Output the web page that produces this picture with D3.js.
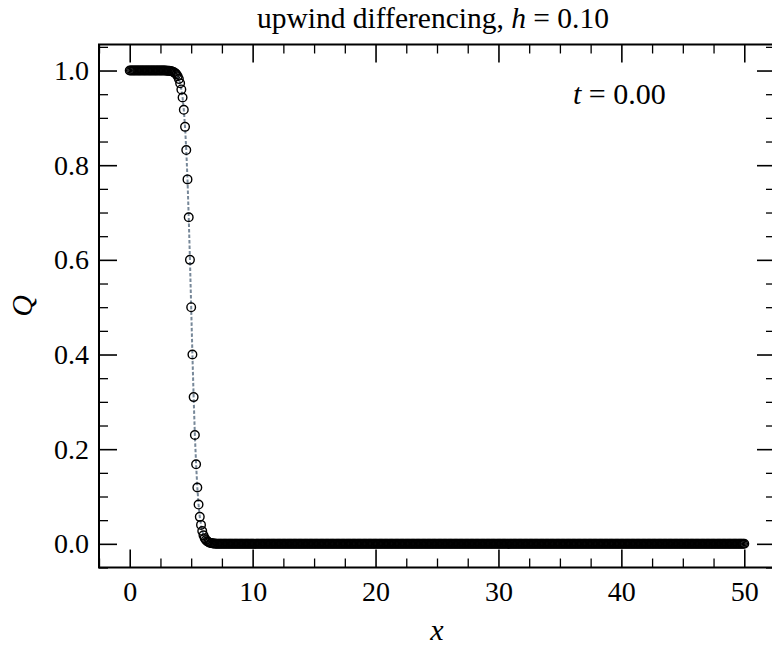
<!DOCTYPE html>
<html>
<head>
<meta charset="utf-8">
<script src="https://cdn.jsdelivr.net/npm/d3@7"></script>
<style>
  html, body { margin: 0; padding: 0; background: #fff; }
  svg { display: block; }
  text { font-family: "Liberation Serif", "Times New Roman", serif; fill: #000; }
</style>
</head>
<body>
<script>
// ---- data ----
const gridStep = 0.10;             // h = 0.10, x_i = i*h
const Q = [
  1,1,1,1,1,1,1,1,1,1, 1,1,1,1,1,1,1,1,1,1, 1,1,1,1,1,1,1,1,1,1,
  0.9997,0.9995,0.9993,0.9989,0.9983,0.9975,0.9963,0.9945,0.992,0.988,
  0.982,0.973,0.96,0.943,0.917,0.881,0.832,0.77,0.69,0.60,
  0.50,0.40,0.31,0.23,0.168,0.119,0.083,0.057,0.04,0.027,
  0.018,0.012,0.008,0.0055,0.0037,0.0025,0.0017,0.0011,0.0007,0.0005,
  0.0003,
  0,0,0,0,0,0,0,0,0,0, 0,0,0,0,0,0,0,0,0,0, 0,0,0,0,0,0,0,0,0,0, 0,0,0,0,0,0,0,0,0,0,
  0,0,0,0,0,0,0,0,0,0, 0,0,0,0,0,0,0,0,0,0, 0,0,0,0,0,0,0,0,0,0, 0,0,0,0,0,0,0,0,0,0,
  0,0,0,0,0,0,0,0,0,0, 0,0,0,0,0,0,0,0,0,0, 0,0,0,0,0,0,0,0,0,0, 0,0,0,0,0,0,0,0,0,0,
  0,0,0,0,0,0,0,0,0,0, 0,0,0,0,0,0,0,0,0,0, 0,0,0,0,0,0,0,0,0,0, 0,0,0,0,0,0,0,0,0,0,
  0,0,0,0,0,0,0,0,0,0, 0,0,0,0,0,0,0,0,0,0, 0,0,0,0,0,0,0,0,0,0, 0,0,0,0,0,0,0,0,0,0,
  0,0,0,0,0,0,0,0,0,0, 0,0,0,0,0,0,0,0,0,0, 0,0,0,0,0,0,0,0,0,0, 0,0,0,0,0,0,0,0,0,0,
  0,0,0,0,0,0,0,0,0,0, 0,0,0,0,0,0,0,0,0,0, 0,0,0,0,0,0,0,0,0,0, 0,0,0,0,0,0,0,0,0,0,
  0,0,0,0,0,0,0,0,0,0, 0,0,0,0,0,0,0,0,0,0, 0,0,0,0,0,0,0,0,0,0, 0,0,0,0,0,0,0,0,0,0,
  0,0,0,0,0,0,0,0,0,0, 0,0,0,0,0,0,0,0,0,0, 0,0,0,0,0,0,0,0,0,0, 0,0,0,0,0,0,0,0,0,0,
  0,0,0,0,0,0,0,0,0,0, 0,0,0,0,0,0,0,0,0,0, 0,0,0,0,0,0,0,0,0,0, 0,0,0,0,0,0,0,0,0,0,
  0,0,0,0,0,0,0,0,0,0, 0,0,0,0,0,0,0,0,0,0, 0,0,0,0,0,0,0,0,0,0
];
const xMajorTicks = [0, 10, 20, 30, 40, 50];
const xMinorTicks = [-2.5, 2.5, 5, 7.5, 12.5, 15, 17.5, 22.5, 25, 27.5, 32.5, 35, 37.5, 42.5, 45, 47.5, 52.5];
const yMajorTicks = [0.0, 0.2, 0.4, 0.6, 0.8, 1.0];
const yMinorTicks = [-0.05, 0.05, 0.1, 0.15, 0.25, 0.3, 0.35, 0.45, 0.5, 0.55, 0.65, 0.7, 0.75, 0.85, 0.9, 0.95, 1.05];
const titleText = "upwind differencing, ";
const hLabel = "0.10";
const timeLabel = "0.00";

// ---- layout ----
const W = 772, H = 649;
const m = { left: 99, top: 44.5, right: 775, bottom: 567.5 };
const pw = m.right - m.left, ph = m.bottom - m.top;

const svg = d3.select("body").append("svg").attr("width", W).attr("height", H);

const x = d3.scaleLinear().domain([-2.5, 52.5]).range([m.left, m.right]);
const y = d3.scaleLinear().domain([-0.05, 1.055]).range([m.bottom, m.top]);

const pts = Q.map((q, i) => ({ x: i * gridStep, q }));

// clip
svg.append("clipPath").attr("id", "clip").append("rect")
  .attr("x", m.left).attr("y", m.top).attr("width", pw).attr("height", ph);

const plot = svg.append("g").attr("clip-path", "url(#clip)");

plot.append("path")
  .datum(pts)
  .attr("fill", "none")
  .attr("stroke", "#778899")
  .attr("stroke-width", 2)
  .attr("stroke-dasharray", "3.5,2")
  .attr("d", d3.line().x(d => x(d.x)).y(d => y(d.q)));

plot.append("g").selectAll("circle")
  .data(pts).join("circle")
  .attr("cx", d => x(d.x)).attr("cy", d => y(d.q))
  .attr("r", 4.3)
  .attr("fill", "none")
  .attr("stroke", "#000")
  .attr("stroke-width", 1.4);

// axes (ticks inward on all four sides)
const tickFont = 28;
function styleAxis(g, sw) {
  g.select(".domain").remove();
  g.attr("font-family", null);
  g.selectAll(".tick line").attr("stroke", "#000").attr("stroke-width", sw);
  g.selectAll(".tick text").attr("font-size", tickFont);
}
const majLen = 18, minLen = 9;

svg.append("g").attr("transform", `translate(0,${m.bottom})`)
  .call(d3.axisBottom(x).tickValues(xMajorTicks).tickSize(-majLen).tickPadding(14).tickFormat(d3.format("d")))
  .call(g => styleAxis(g, 1.6));
svg.append("g").attr("transform", `translate(0,${m.bottom})`)
  .call(d3.axisBottom(x).tickValues(xMinorTicks).tickSize(-minLen).tickFormat(""))
  .call(g => styleAxis(g, 1.3));
svg.append("g").attr("transform", `translate(0,${m.top})`)
  .call(d3.axisTop(x).tickValues(xMajorTicks).tickSize(-majLen).tickFormat(""))
  .call(g => styleAxis(g, 1.6));
svg.append("g").attr("transform", `translate(0,${m.top})`)
  .call(d3.axisTop(x).tickValues(xMinorTicks).tickSize(-minLen).tickFormat(""))
  .call(g => styleAxis(g, 1.3));

svg.append("g").attr("transform", `translate(${m.left},0)`)
  .call(d3.axisLeft(y).tickValues(yMajorTicks).tickSize(-majLen).tickPadding(10).tickFormat(d3.format(".1f")))
  .call(g => styleAxis(g, 1.6));
svg.append("g").attr("transform", `translate(${m.left},0)`)
  .call(d3.axisLeft(y).tickValues(yMinorTicks).tickSize(-minLen).tickFormat(""))
  .call(g => styleAxis(g, 1.3));
svg.append("g").attr("transform", `translate(${m.right},0)`)
  .call(d3.axisRight(y).tickValues(yMajorTicks).tickSize(-majLen).tickFormat(""))
  .call(g => styleAxis(g, 1.6));
svg.append("g").attr("transform", `translate(${m.right},0)`)
  .call(d3.axisRight(y).tickValues(yMinorTicks).tickSize(-minLen).tickFormat(""))
  .call(g => styleAxis(g, 1.3));

// frame
svg.append("rect")
  .attr("x", m.left).attr("y", m.top).attr("width", pw).attr("height", ph)
  .attr("fill", "none").attr("stroke", "#000").attr("stroke-width", 2);

// title
const title = svg.append("text")
  .attr("x", (m.left + m.right) / 2 - 4).attr("y", 28)
  .attr("text-anchor", "middle").attr("font-size", 29.5);
title.append("tspan").text(titleText);
title.append("tspan").attr("font-style", "italic").text("h");
title.append("tspan").text(" = " + hLabel);

// annotation
const ann = svg.append("text")
  .attr("x", 573).attr("y", 104)
  .attr("font-size", 30);
ann.append("tspan").attr("font-style", "italic").text("t");
ann.append("tspan").text(" = " + timeLabel);

// axis labels
svg.append("text")
  .attr("x", (m.left + m.right) / 2).attr("y", 640)
  .attr("text-anchor", "middle").attr("font-size", 30).attr("font-style", "italic")
  .text("x");
svg.append("text")
  .attr("transform", `translate(32,${(m.top + m.bottom) / 2}) rotate(-90)`)
  .attr("text-anchor", "middle").attr("font-size", 30).attr("font-style", "italic")
  .text("Q");
</script>
</body>
</html>
